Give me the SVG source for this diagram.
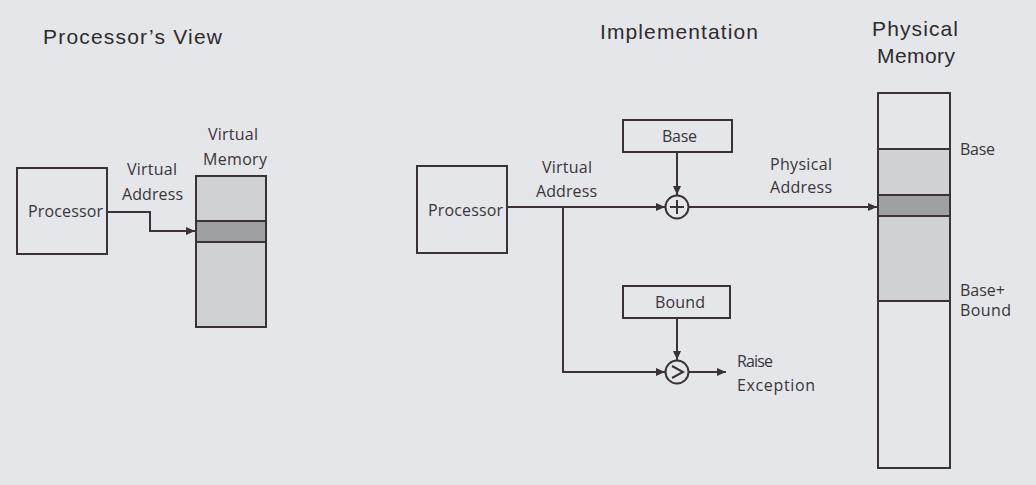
<svg xmlns="http://www.w3.org/2000/svg" width="1036" height="485" viewBox="0 0 1036 485">
<defs>
<marker id="arr" markerUnits="userSpaceOnUse" markerWidth="10" markerHeight="8" refX="9" refY="4" orient="auto">
<path d="M0,0 L9,4 L0,8 z" fill="#3a3236"/>
</marker>
<style>
.bg{fill:#e5e6ea}
.box{fill:none;stroke:#3a3236;stroke-width:2}
.light{fill:#d0d1d3}
.dark{fill:#9fa0a2}
.ln{fill:none;stroke:#3a3236;stroke-width:2}
.ar{fill:none;stroke:#3a3236;stroke-width:2;marker-end:url(#arr)}
.title{font-family:"Liberation Sans",Arial,sans-serif;font-size:21px;fill:#2e2b2d}
.lbl{font-family:"Open Sans","Noto Sans",sans-serif;font-size:16px;fill:#3a3538}
</style>
</defs>
<rect class="bg" x="0" y="0" width="1036" height="485"/>

<g id="titles">
<text class="title" x="43" y="44" textLength="179">Processor’s View</text>
<text class="title" x="600" y="39" textLength="158">Implementation</text>
<text class="title" x="872" y="36" textLength="86">Physical</text>
<text class="title" x="877" y="63" textLength="78">Memory</text>
</g>

<g id="processor-left">
<rect class="box" x="17" y="168" width="90" height="86"/>
<text class="lbl" x="28" y="217" textLength="75">Processor</text>
</g>

<g id="virtual-memory">
<rect class="light" x="196" y="176" width="70" height="151"/>
<rect class="dark" x="196" y="221" width="70" height="21"/>
<rect class="box" x="196" y="176" width="70" height="151"/>
<line class="ln" x1="196" y1="221" x2="266" y2="221"/>
<line class="ln" x1="196" y1="242" x2="266" y2="242"/>
<text class="lbl" x="208" y="140" textLength="50">Virtual</text>
<text class="lbl" x="203" y="165" textLength="64">Memory</text>
</g>

<g id="processor-mid">
<rect class="box" x="417" y="166" width="90" height="87"/>
<text class="lbl" x="428" y="216" textLength="75">Processor</text>
</g>

<g id="base-reg">
<rect class="box" x="623" y="120" width="109" height="32"/>
<text class="lbl" x="662" y="142" textLength="35">Base</text>
</g>

<g id="bound-reg">
<rect class="box" x="623" y="286" width="107" height="32"/>
<text class="lbl" x="655" y="308" textLength="50">Bound</text>
</g>

<g id="adder">
<circle class="box" cx="677" cy="207" r="11.5"/>
<line class="ln" x1="670" y1="207" x2="684" y2="207"/>
<line class="ln" x1="677" y1="200" x2="677" y2="214"/>
</g>

<g id="comparator">
<circle class="box" cx="677" cy="372" r="11.5"/>
<path class="ln" d="M672,366 L683,372 L672,378"/>
</g>

<g id="physical-memory">
<rect class="light" x="878" y="149" width="72" height="152"/>
<rect class="dark" x="878" y="195" width="72" height="21"/>
<rect class="box" x="878" y="93" width="72" height="375"/>
<line class="ln" x1="878" y1="149" x2="950" y2="149"/>
<line class="ln" x1="878" y1="195" x2="950" y2="195"/>
<line class="ln" x1="878" y1="216" x2="950" y2="216"/>
<line class="ln" x1="878" y1="301" x2="950" y2="301"/>
<text class="lbl" x="960" y="155" textLength="35">Base</text>
<text class="lbl" x="960" y="296" textLength="45" font-size="15">Base+</text>
<text class="lbl" x="960" y="316" textLength="51" font-size="15">Bound</text>
</g>

<g id="connectors">
<path class="ar" d="M107,212 H150 V231 H195"/>
<path class="ar" d="M507,207 H665"/>
<path class="ar" d="M677,152 V195"/>
<path class="ar" d="M688,207 H877"/>
<path class="ar" d="M563,207 V372 H665"/>
<path class="ar" d="M677,318 V360"/>
<path class="ar" d="M688,372 H726"/>
</g>

<g id="connector-labels">
<text class="lbl" x="127" y="175" textLength="50">Virtual</text>
<text class="lbl" x="122" y="200" textLength="61">Address</text>
<text class="lbl" x="542" y="173" textLength="50">Virtual</text>
<text class="lbl" x="536" y="197" textLength="61">Address</text>
<text class="lbl" x="770" y="170" textLength="62">Physical</text>
<text class="lbl" x="770" y="193" textLength="62">Address</text>
<text class="lbl" x="737" y="367" textLength="36">Raise</text>
<text class="lbl" x="737" y="391" textLength="78">Exception</text>
</g>
</svg>
